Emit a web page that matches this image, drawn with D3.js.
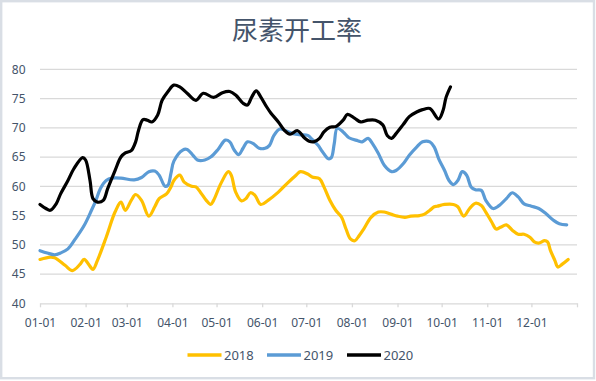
<!DOCTYPE html>
<html>
<head>
<meta charset="utf-8">
<script src="https://cdn.jsdelivr.net/npm/d3@7"></script>
<style>
  body { margin: 0; background: #fff; }
  text { font-family: "Noto Sans", "Open Sans", sans-serif; }
</style>
</head>
<body>
<svg width="596" height="381"></svg>
<script>
// 尿素开工率, weekly readings by month-day
var dates2018 = ["01-01","01-08","01-11","01-18","01-23","01-28","01-31","02-04","02-06","02-09","02-15","02-21","02-25","02-28","03-04","03-07","03-11","03-16","03-20","03-23","03-28","03-31","04-02","04-06","04-09","04-14","04-17","04-20","04-24","04-27","04-29","05-04","05-09","05-11","05-14","05-18","05-21","05-24","05-27","05-31","06-05","06-12","06-18","06-24","06-27","07-02","07-05","07-10","07-13","07-17","07-21","07-25","07-28","07-31","08-03","08-06","08-09","08-14","08-19","08-23","08-28","09-01","09-06","09-10","09-16","09-19","09-23","09-26","09-28","10-03","10-09","10-12","10-16","10-20","10-24","10-28","10-31","11-04","11-07","11-10","11-14","11-18","11-22","11-26","11-30","12-03","12-06","12-10","12-12","12-14","12-17","12-19","12-22","12-26"];
var values2018 = [47.5,47.9,47.8,46.5,45.6,46.6,47.5,46.3,45.8,47.3,51.3,55.6,57.3,55.9,57.6,58.6,57.6,54.9,56.5,57.9,58.7,59.9,61.0,61.9,60.7,60.0,59.9,59.0,57.6,56.9,57.6,60.5,62.5,61.9,59.0,57.5,57.9,58.9,58.5,56.9,57.6,59.0,60.5,61.9,62.5,62.1,61.6,61.3,59.9,57.6,55.9,54.7,52.7,51.0,50.7,51.6,52.7,54.7,55.6,55.6,55.2,54.9,54.7,54.9,55.0,55.2,55.9,56.5,56.6,56.9,56.9,56.5,54.9,56.2,57.1,56.7,55.6,53.9,52.7,53.0,53.4,52.5,51.8,51.8,51.3,50.5,50.3,50.7,50.5,49.0,47.3,46.2,46.7,47.5];

var dates2019 = ["01-01","01-06","01-11","01-15","01-20","01-25","01-31","02-05","02-08","02-11","02-15","02-19","02-25","03-06","03-11","03-16","03-20","03-23","03-27","03-29","03-31","04-02","04-08","04-11","04-15","04-18","04-23","04-27","05-02","05-07","05-10","05-13","05-16","05-19","05-22","05-26","05-30","06-03","06-06","06-09","06-13","06-17","06-22","06-27","07-02","07-05","07-09","07-12","07-16","07-18","07-20","07-22","07-26","07-30","08-05","08-08","08-12","08-15","08-19","08-23","08-28","08-31","09-05","09-09","09-14","09-18","09-23","09-26","09-29","10-03","10-06","10-09","10-12","10-15","10-18","10-21","10-24","10-28","10-31","11-05","11-09","11-14","11-18","11-22","11-26","12-01","12-06","12-11","12-16","12-20","12-25"];
var values2019 = [49.0,48.6,48.3,48.6,49.3,51.0,53.3,55.9,57.6,59.6,61.0,61.4,61.4,61.1,61.5,62.5,62.6,61.9,60.0,60.2,62.2,64.3,66.2,66.3,65.3,64.5,64.5,65.0,66.3,67.9,67.6,66.2,65.4,66.5,67.6,67.3,66.5,66.5,67.0,68.7,69.8,69.5,69.0,68.8,68.7,68.0,67.0,65.9,64.7,64.9,67.3,69.9,69.3,68.3,67.8,67.6,68.2,67.3,65.6,63.6,62.5,62.7,63.9,65.3,66.7,67.6,67.6,66.7,64.7,62.7,61.0,60.3,61.0,62.5,61.9,59.9,59.4,59.3,57.6,56.2,56.7,57.9,58.9,58.2,57.0,56.6,56.2,55.3,54.2,53.6,53.4];

var dates2020 = ["01-01","01-05","01-08","01-12","01-15","01-20","01-24","01-30","02-01","02-04","02-06","02-09","02-13","02-16","02-21","02-25","02-28","03-04","03-07","03-09","03-12","03-15","03-18","03-22","03-25","03-29","04-02","04-06","04-11","04-17","04-22","04-29","05-05","05-10","05-14","05-19","05-22","05-25","05-28","05-31","06-04","06-07","06-12","06-16","06-20","06-25","06-30","07-03","07-06","07-10","07-13","07-17","07-21","07-26","07-29","08-03","08-07","08-12","08-17","08-22","08-25","08-28","08-31","09-05","09-09","09-14","09-18","09-23","09-29","10-02","10-04","10-07"];
var values2020 = [56.9,56.2,55.9,57.0,58.7,61.0,63.0,64.9,64.5,61.0,57.9,57.3,57.6,59.6,62.7,65.0,65.7,66.1,67.6,69.6,71.4,71.3,71.0,72.2,74.7,76.2,77.3,77.0,75.9,74.7,75.9,75.2,76.0,76.2,75.6,74.2,73.9,75.3,76.3,75.3,73.6,72.5,71.0,69.6,68.9,69.5,68.2,67.7,67.6,68.2,69.3,70.1,70.2,71.3,72.3,71.6,71.0,71.3,71.3,70.5,68.7,68.2,69.0,70.6,71.9,72.7,73.1,73.3,71.5,73.0,75.2,77.0];

var yTicks = [40, 45, 50, 55, 60, 65, 70, 75, 80];
var seriesNames = ["2018", "2019", "2020"];
var seriesColors = ["#ffc000", "#5b9bd5", "#000000"];

var svg = d3.select("svg"),
    width = +svg.attr("width"),
    height = +svg.attr("height");

var parse = d3.timeParse("%m-%d"),
    fmt = d3.timeFormat("%m-%d");

var series = [
  { name: seriesNames[0], color: seriesColors[0], points: dates2018.map(function(d, i) { return { date: parse(d), value: values2018[i] }; }) },
  { name: seriesNames[1], color: seriesColors[1], points: dates2019.map(function(d, i) { return { date: parse(d), value: values2019[i] }; }) },
  { name: seriesNames[2], color: seriesColors[2], points: dates2020.map(function(d, i) { return { date: parse(d), value: values2020[i] }; }) }
];

var x = d3.scaleTime()
    .domain([new Date(1900, 0, 1), new Date(1901, 0, 1)])
    .range([40, 577]);

var y = d3.scaleLinear()
    .domain([40, 80])
    .range([303.3, 69.3]);

// frame
svg.append("rect")
    .attr("x", 1.2).attr("y", 1.2)
    .attr("width", width - 3.2).attr("height", height - 4)
    .attr("fill", "#fff")
    .attr("stroke", "#d9dee5")
    .attr("stroke-width", 2.4);

svg.append("text")
    .attr("x", 297)
    .attr("y", 40)
    .attr("text-anchor", "middle")
    .style("font-family", "'Noto Sans CJK SC', sans-serif")
    .style("font-size", "26px")
    .attr("fill", "#44546a")
    .text("尿素开工率");

// gridlines + y labels
svg.append("g").selectAll("line")
    .data(yTicks.slice(1))
    .enter().append("line")
    .attr("x1", x.range()[0]).attr("x2", x.range()[1])
    .attr("y1", function(d) { return y(d); })
    .attr("y2", function(d) { return y(d); })
    .attr("stroke", "#d9d9d9")
    .attr("stroke-width", 1.3);

svg.append("g").selectAll("text")
    .data(yTicks)
    .enter().append("text")
    .attr("x", 25.5)
    .attr("y", function(d) { return y(d) + 4.3; })
    .attr("text-anchor", "end")
    .style("font-size", "12px")
    .attr("fill", "#44546a")
    .text(function(d) { return d; });

// x axis
var monthTicks = d3.timeMonth.range(new Date(1900, 0, 1), new Date(1901, 0, 2));
var xAxis = svg.append("g")
    .attr("transform", "translate(0," + y(40) + ")")
    .call(d3.axisBottom(x)
      .tickValues(monthTicks)
      .tickSize(4)
      .tickSizeOuter(0)
      .tickPadding(11.5)
      .tickFormat(function(d) { return d.getFullYear() === 1900 ? fmt(d) : ""; }));
xAxis.select(".domain").attr("stroke", "#d9d9d9").attr("stroke-width", 1.3);
xAxis.selectAll(".tick line").attr("stroke", "#d9d9d9").attr("stroke-width", 1.3);
xAxis.selectAll(".tick text")
    .style("font-family", "'Noto Sans', sans-serif")
    .style("font-size", "12px")
    .attr("fill", "#44546a");

var line = d3.line()
    .x(function(d) { return x(d.date); })
    .y(function(d) { return y(d.value); })
    .curve(d3.curveCatmullRom.alpha(0.5));

svg.append("g").selectAll("path")
    .data(series)
    .enter().append("path")
    .attr("d", function(d) { return line(d.points); })
    .attr("fill", "none")
    .attr("stroke", function(d) { return d.color; })
    .attr("stroke-width", 3.2)
    .attr("stroke-linejoin", "round")
    .attr("stroke-linecap", "round");

// legend
var legendX = [187.5, 267, 347];
var legend = svg.append("g").selectAll("g")
    .data(series)
    .enter().append("g")
    .attr("transform", function(d, i) { return "translate(" + legendX[i] + ",355)"; });

legend.append("line")
    .attr("x1", 0).attr("x2", 34)
    .attr("stroke", function(d) { return d.color; })
    .attr("stroke-width", 3.4);

legend.append("text")
    .attr("x", 36.5)
    .attr("dy", "0.35em")
    .style("font-size", "13px")
    .attr("fill", "#44546a")
    .text(function(d) { return d.name; });
</script>
</body>
</html>
